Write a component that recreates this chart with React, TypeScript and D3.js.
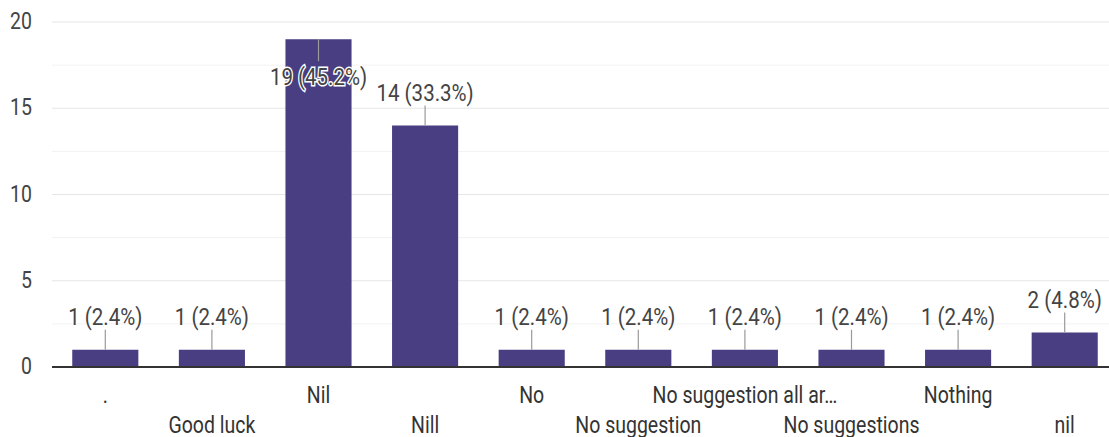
import React from "react";
import * as d3 from "d3";

const categories = [".", "Good luck", "Nil", "Nill", "No", "No suggestion", "No suggestion all ar…", "No suggestions", "Nothing", "nil"];
const values = [1, 1, 19, 14, 1, 1, 1, 1, 1, 2];
const percents = ["2.4%", "2.4%", "45.2%", "33.3%", "2.4%", "2.4%", "2.4%", "2.4%", "2.4%", "4.8%"];
const yTicks = [0, 5, 10, 15, 20];
const yMinorTicks = [2.5, 7.5, 12.5, 17.5];

const W = 1109, H = 437;
const M = { left: 52, right: -9, top: 22, bottom: 70 };

export default function App() {
  const x = d3.scaleBand<string>().domain(categories).range([M.left, W - M.right]).paddingInner(0.38).paddingOuter(0.19);
  const y = d3.scaleLinear().domain([0, 20]).range([H - M.bottom, M.top]);
  const font = "Roboto, Arial, sans-serif";
  const sy = 1.18;
  const T = (props: any) => {
    const { x: tx, y: ty, children, ...rest } = props;
    return (
      <text transform={`translate(${tx},${ty}) scale(1,${sy})`} fontFamily={font} {...rest}>{children}</text>
    );
  };
  return (
    <svg width={W} height={H} style={{ position: "absolute", left: 0, top: 0, background: "#fff" }}>
      {yMinorTicks.map((t) => (
        <line key={"m" + t} x1={M.left} x2={W} y1={y(t)} y2={y(t)} stroke="#f2f2f2" strokeWidth={1} />
      ))}
      {yTicks.filter((t) => t > 0).map((t) => (
        <line key={"g" + t} x1={M.left} x2={W} y1={y(t)} y2={y(t)} stroke="#e6e6e6" strokeWidth={1.2} />
      ))}
      {yTicks.map((t) => (
        <T key={"t" + t} x={M.left - 20} y={y(t) + 7} textAnchor="end" fontSize={19.5} fill="#444">{t}</T>
      ))}
      {categories.map((c, i) => {
        const bx = x(c)!;
        const bw = x.bandwidth();
        const top = y(values[i]);
        const cx = bx + bw / 2;
        const inside = top - 30 < M.top + 10;
        const lineY2 = inside ? top + 22 : top - 20;
        const labelY = inside ? top + 46 : top - 25;
        return (
          <g key={c}>
            <rect x={bx} y={top} width={bw} height={y(0) - top} fill="#483e81" />
            <line x1={cx} x2={cx} y1={top} y2={lineY2} stroke="#9a9a9a" strokeWidth={1.2} />
            <T x={cx} y={labelY} textAnchor="middle" fontSize={20.5} fill="#444" stroke="#fff" strokeWidth={inside ? 2.5 : 0} paintOrder="stroke">
              {values[i]} ({percents[i]})
            </T>
          </g>
        );
      })}
      <line x1={M.left} x2={W} y1={y(0)} y2={y(0)} stroke="#333" strokeWidth={2} />
      {categories.map((c, i) => (
        <T key={"x" + c} x={x(c)! + x.bandwidth() / 2} y={i % 2 === 0 ? 403 : 433} textAnchor="middle" fontSize={19.5} fill="#333">{c}</T>
      ))}
    </svg>
  );
}
